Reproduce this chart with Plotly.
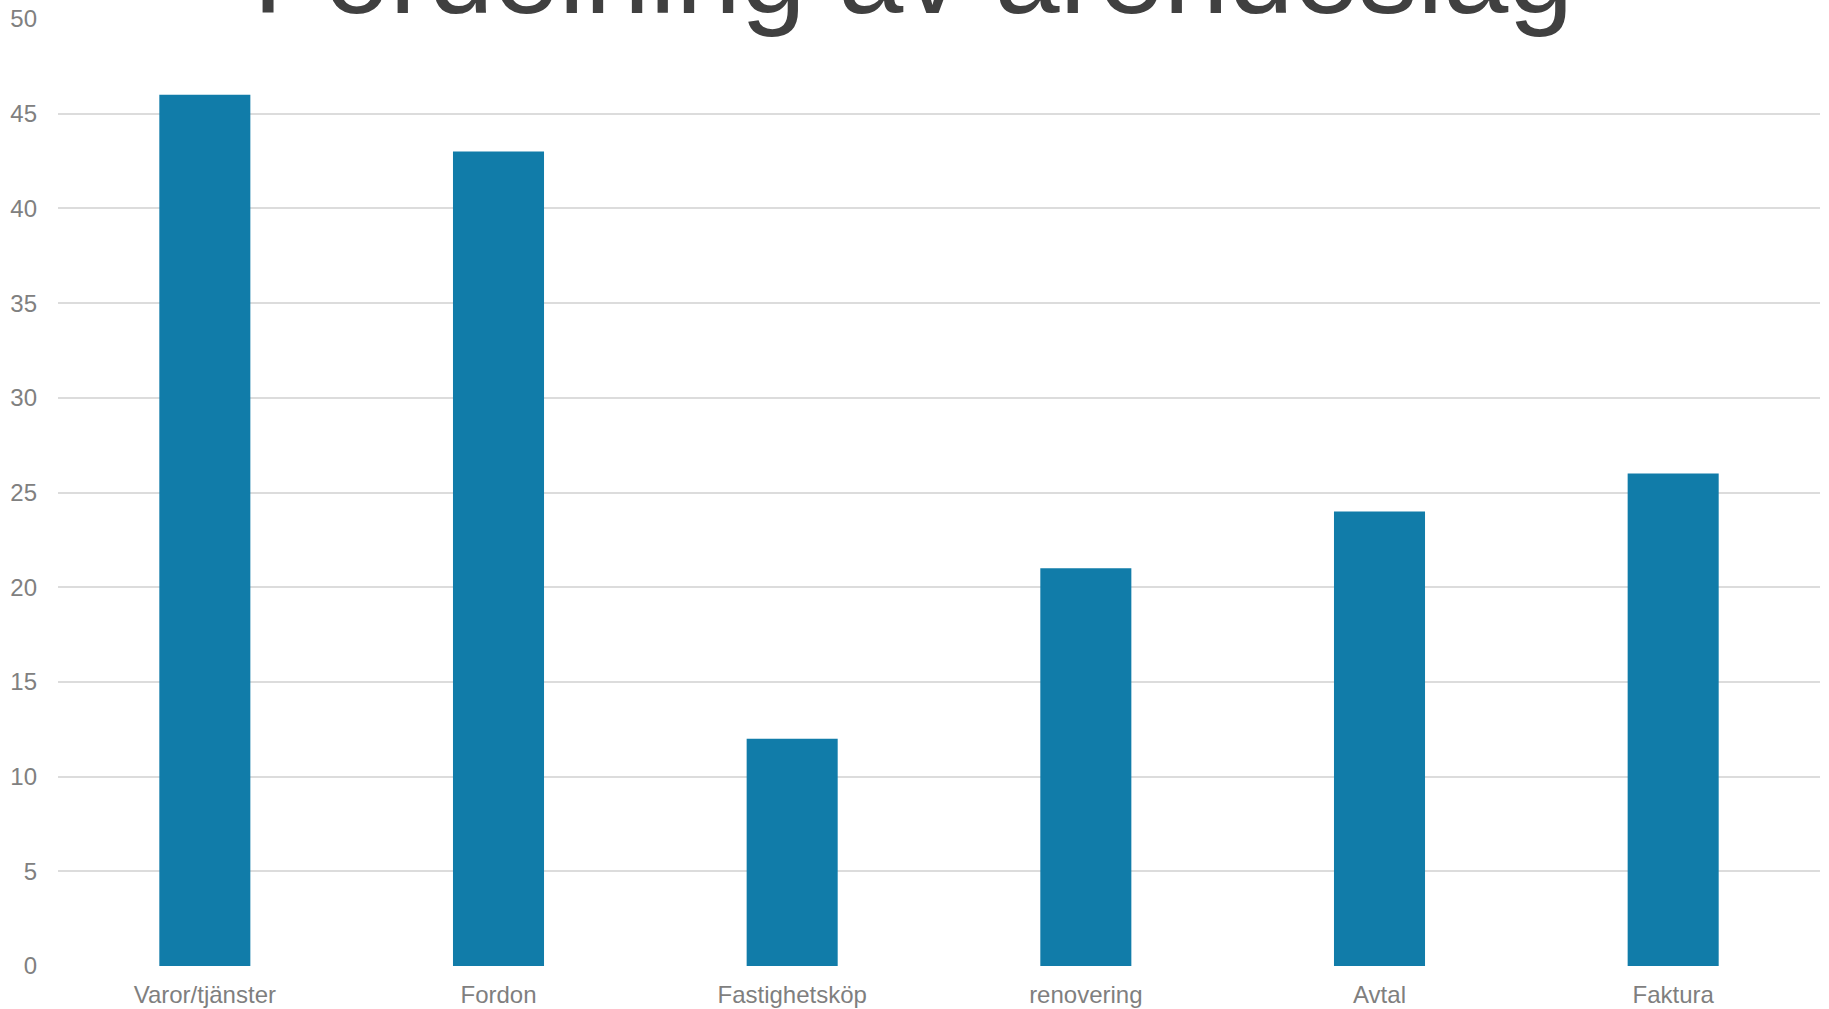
import plotly.graph_objects as go

categories = ["Varor/tjänster", "Fordon", "Fastighetsköp", "renovering", "Avtal", "Faktura"]
values = [46, 43, 12, 21, 24, 26]
title_text = "Fördelning av ärendeslag"
y_ticks = [0, 5, 10, 15, 20, 25, 30, 35, 40, 45, 50]

FONT = "Liberation Sans, Arial, sans-serif"

fig = go.Figure()
fig.add_trace(go.Bar(
    x=categories, y=values,
    marker=dict(color="#117CA9", line=dict(width=0)),
    width=0.31,
))

fig.update_layout(
    width=1829, height=1009,
    margin=dict(l=58, r=9, t=19, b=43, autoexpand=False),
    paper_bgcolor="white", plot_bgcolor="white",
    showlegend=False,
    font=dict(family=FONT, color="#808080", size=24),
    xaxis=dict(showgrid=False, showline=False, zeroline=False, ticks="", automargin=False,
               tickfont=dict(size=24, color="#7f7f7f"), ticklabelstandoff=12),
    yaxis=dict(range=[0, 50], tickvals=y_ticks, showgrid=True, gridcolor="#dcdcdc",
               gridwidth=1.5, zeroline=False, showline=False, ticks="", automargin=False,
               tickfont=dict(size=24, color="#808080"), ticklabelstandoff=20),
    annotations=[dict(
        text=title_text, xref="paper", yref="paper", x=0.485, y=1.0486,
        xanchor="center", yanchor="middle", showarrow=False,
        font=dict(family=FONT, size=117, color="#404040"),
    )],
)

fig.write_html("out.html",
               config={"displayModeBar": False},
               post_script="document.body.style.margin='0';document.body.style.overflow='hidden';")
